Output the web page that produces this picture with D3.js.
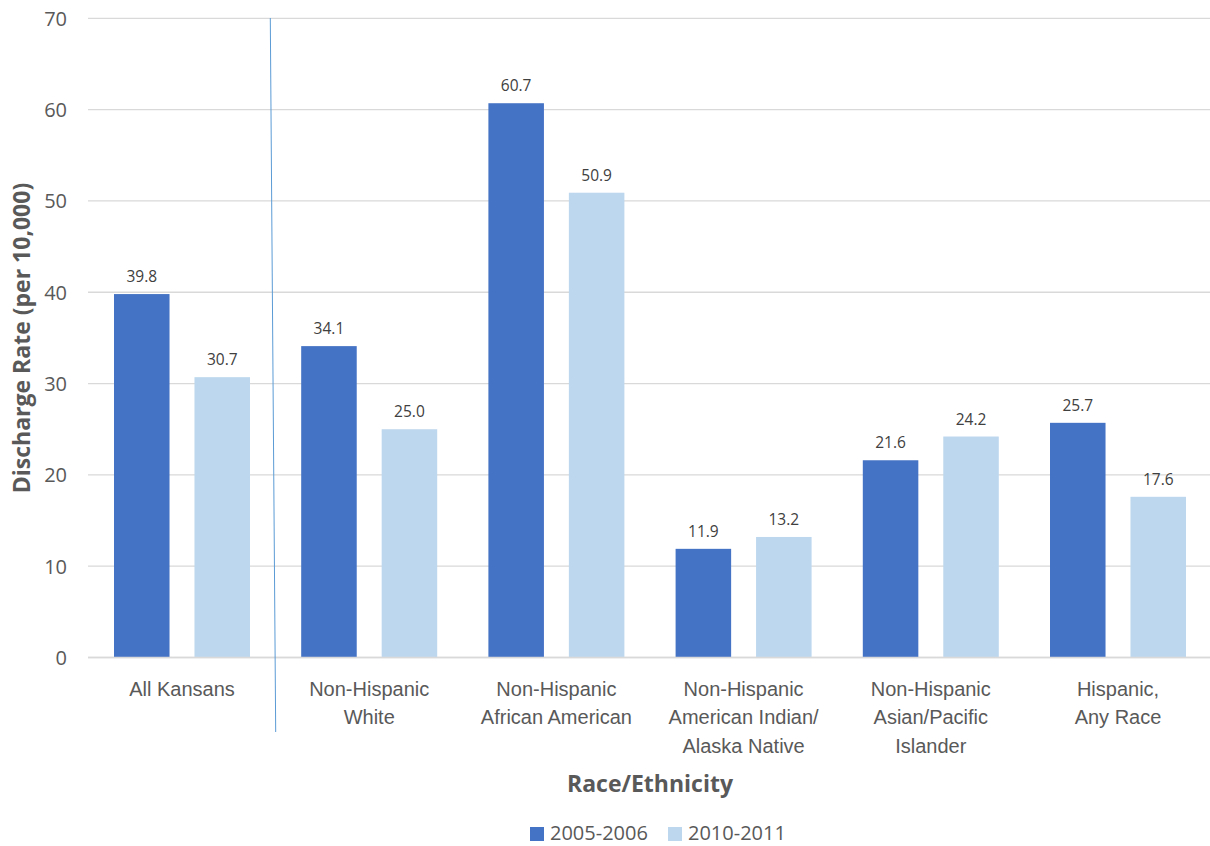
<!DOCTYPE html>
<html><head><meta charset="utf-8">
<script src="https://cdn.jsdelivr.net/npm/d3@7"></script>
<style>body{margin:0;background:#fff}svg{display:block;font-family:"Open Sans",sans-serif}</style>
</head><body><svg id="c" width="1210" height="846"></svg>
<script>
const categories = [["All Kansans"],["Non-Hispanic","White"],["Non-Hispanic","African American"],["Non-Hispanic","American Indian/","Alaska Native"],["Non-Hispanic","Asian/Pacific","Islander"],["Hispanic,","Any Race"]];
const series = ["2005-2006","2010-2011"];
const values2005 = [39.8,34.1,60.7,11.9,21.6,25.7];
const values2010 = [30.7,25.0,50.9,13.2,24.2,17.6];
const yTicks = [0,10,20,30,40,50,60,70];
const colors = ["#4472C4","#BDD7EE"];

const svg = d3.select("#c");
const catKeys = categories.map(c=>c.join(" "));
const x0 = d3.scaleBand().domain(catKeys).range([88.4,1211.6]).padding(0);
const x1 = d3.scaleBand().domain(series).range([25.6,161.6]).paddingInner(0.31).paddingOuter(0);
const y = d3.scaleLinear().domain([0,70]).range([657.5,18.3]);

// gridlines
svg.append("g").selectAll("line").data(yTicks).join("line")
  .attr("x1",88).attr("x2",1210).attr("y1",d=>y(d)).attr("y2",d=>y(d))
  .attr("stroke","#d9d9d9").attr("stroke-width",1.3);

// y axis labels
const yAxis = d3.axisLeft(y).tickValues(yTicks).tickSize(0).tickPadding(0);
const gy = svg.append("g").attr("transform","translate(67,0)").call(yAxis);
gy.select(".domain").remove();
gy.selectAll("text").attr("font-size",20).attr("fill","#595959").attr("font-family","'Open Sans',sans-serif").attr("dy","0.35em");

const data = catKeys.map((k,i)=>({k, vals:[values2005[i],values2010[i]]}));
const groups = svg.append("g").selectAll("g").data(data).join("g")
  .attr("transform",d=>`translate(${x0(d.k)},0)`);
groups.selectAll("rect").data(d=>d.vals.map((v,j)=>({s:series[j],v,j}))).join("rect")
  .attr("x",d=>x1(d.s)).attr("width",x1.bandwidth())
  .attr("y",d=>y(d.v)).attr("height",d=>y(0)-y(d.v)).attr("fill",d=>colors[d.j]);
groups.selectAll("text.lbl").data(d=>d.vals.map((v,j)=>({s:series[j],v,j}))).join("text")
  .attr("class","lbl").attr("x",d=>x1(d.s)+x1.bandwidth()/2).attr("y",d=>y(d.v)-12)
  .attr("text-anchor","middle").attr("font-size",15.5).attr("fill","#404040")
  .text(d=>d.v.toFixed(1));

// zero axis line
svg.append("line").attr("x1",88).attr("x2",1210).attr("y1",y(0)).attr("y2",y(0)).attr("stroke","#d9d9d9").attr("stroke-width",1.3);

// category labels
const xAxis = d3.axisBottom(x0).tickSize(0).tickFormat(()=>"");
const gx = svg.append("g").attr("transform",`translate(0,${y(0)})`).call(xAxis);
gx.select(".domain").remove();
gx.selectAll(".tick").each(function(d,i){
  const t = d3.select(this).append("text").attr("text-anchor","middle").attr("font-size",20).attr("fill","#595959");
  categories[i].forEach((line,li)=>t.append("tspan").attr("x",0).attr("y",38+li*28.7).text(line));
});

// stray diagonal line
svg.append("line").attr("x1",270.3).attr("y1",18).attr("x2",275.7).attr("y2",732).attr("stroke","#5B9BD5").attr("stroke-width",1);

// axis titles
svg.append("text").attr("x",650).attr("y",792).attr("text-anchor","middle").attr("font-size",23).attr("font-weight","bold").attr("fill","#595959").text("Race/Ethnicity");
svg.append("text").attr("transform","translate(30,338) rotate(-90)").attr("text-anchor","middle").attr("font-size",23).attr("font-weight","bold").attr("fill","#595959").text("Discharge Rate (per 10,000)");

// legend
const leg = svg.append("g");
const legX = [530,668];
series.forEach((s,i)=>{
  leg.append("rect").attr("x",legX[i]).attr("y",827).attr("width",14).attr("height",14).attr("fill",colors[i]);
  leg.append("text").attr("x",legX[i]+20).attr("y",840).attr("font-size",20).attr("fill","#595959").text(s);
});
</script></body></html>
